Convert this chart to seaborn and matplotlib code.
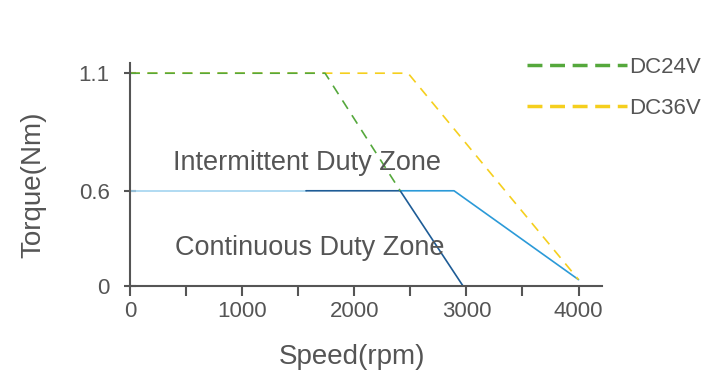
import numpy as np
import matplotlib
matplotlib.use("Agg")
import matplotlib.pyplot as plt
from matplotlib.lines import Line2D
import seaborn as sns

# ---- data ----
dc24_speed = [0, 1740, 2410]
dc24_torque = [1.1, 1.1, 0.6]
dc36_speed = [0, 2480, 4000]
dc36_torque = [1.1, 1.1, 0.04]
cont_light_speed = [0, 1570]
cont_light_torque = [0.6, 0.6]
cont_dark_speed = [1570, 2410, 2970]
cont_dark_torque = [0.6, 0.6, 0.0]
inter_speed = [2410, 2890, 4000]
inter_torque = [0.6, 0.6, 0.04]
x_ticks = [0, 500, 1000, 1500, 2000, 2500, 3000, 3500, 4000]
x_labels = ["0", "", "1000", "", "2000", "", "3000", "", "4000"]
y_ticks = [0, 0.6, 1.1]
y_labels = ["0", "0.6", "1.1"]

sns.set_theme(style="white")
plt.rcParams['font.family'] = ['Liberation Sans', 'DejaVu Sans']

TXT = "#555555"
AX = "#555555"
GREEN = "#55a83c"
YELLOW = "#f5cf1e"
LIGHT = "#a3d4f0"
DARK = "#1e5c96"
MID = "#2b9ad8"

fig = plt.figure(figsize=(7.10, 3.87), dpi=100)
ax = fig.add_axes([0.183, 0.261, 0.665, 0.576])

K = 1.482
def fwd(y):
    y = np.asarray(y, dtype=float)
    return np.where(y <= 0.6, y, 0.6 + (y - 0.6) * K)
def inv(t):
    t = np.asarray(t, dtype=float)
    return np.where(t <= 0.6, t, 0.6 + (t - 0.6) / K)
ax.set_yscale('function', functions=(fwd, inv))

lw = 1.2
sns.lineplot(x=cont_light_speed, y=cont_light_torque, ax=ax, color=LIGHT, lw=lw, legend=False, sort=False)
sns.lineplot(x=inter_speed, y=inter_torque, ax=ax, color=MID, lw=lw, legend=False, sort=False)
sns.lineplot(x=cont_dark_speed, y=cont_dark_torque, ax=ax, color=DARK, lw=lw, legend=False, sort=False)
sns.lineplot(x=dc36_speed, y=dc36_torque, ax=ax, color=YELLOW, lw=1.2,
             linestyle=(0, (6, 4.5)), legend=False, sort=False)
sns.lineplot(x=dc24_speed, y=dc24_torque, ax=ax, color=GREEN, lw=1.2,
             linestyle=(0, (6, 4.5)), legend=False, sort=False)

ax.set_xlim(0, 4210)
ax.set_ylim(0, 1.143)
ax.set_xticks(x_ticks)
ax.set_xticklabels(x_labels)
ax.set_yticks(y_ticks)
ax.set_yticklabels(y_labels)
ax.minorticks_off()

for s in ['top', 'right']:
    ax.spines[s].set_visible(False)
for s in ['left', 'bottom']:
    ax.spines[s].set_color(AX)
    ax.spines[s].set_linewidth(1.5)
ax.tick_params(axis='x', direction='out', length=7, width=1.5, color=AX,
               labelsize=16, labelcolor=TXT, pad=4, bottom=True)
ax.tick_params(axis='y', direction='inout', length=9, width=1.5, color=AX,
               labelsize=16, labelcolor=TXT, pad=10, left=True)

ax.set_xlabel("Speed(rpm)", fontsize=20, color=TXT)
ax.set_ylabel("Torque(Nm)", fontsize=20, color=TXT)
# label positions in axes coords
ax.xaxis.set_label_coords((352 - 130) / 472, -(357 - 286) / 223, transform=ax.transAxes)
ax.xaxis.label.set_va('center')
ax.yaxis.set_label_coords((33 - 130) / 472, (286 - 185) / 223, transform=ax.transAxes)
ax.yaxis.label.set_va('center')

ax.text(1580, 0.72, "Intermittent Duty Zone", fontsize=19.5, color=TXT,
        ha='center', va='center')
ax.text(1606, 0.24, "Continuous Duty Zone", fontsize=19.5, color=TXT,
        ha='center', va='center')

handles = [Line2D([], [], color=GREEN, lw=2.5, linestyle=(0, (4.3, 2.2))),
           Line2D([], [], color=YELLOW, lw=2.5, linestyle=(0, (4.3, 2.2)))]
fig.legend(handles, ["DC24V", "DC36V"], loc='upper left',
           bbox_to_anchor=(527 / 710, 1 - 57 / 387), frameon=False,
           fontsize=16, labelcolor=TXT, handlelength=4.5, handletextpad=0.1,
           borderpad=0, borderaxespad=0, labelspacing=0.88)

fig.savefig("out.png", dpi=100)
